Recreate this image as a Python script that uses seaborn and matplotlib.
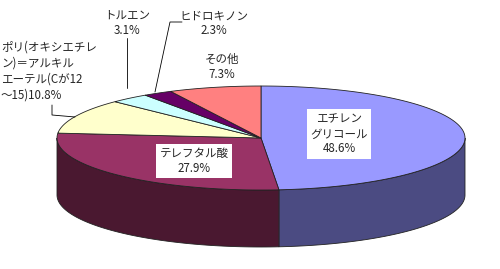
import numpy as np
import matplotlib
matplotlib.use("Agg")
import matplotlib.pyplot as plt
import seaborn as sns

# ---- data ----
categories = ["エチレン\nグリコール", "テレフタル酸", "ポリ(オキシエチレ\nン)＝アルキル\nエーテル(Cが12\n～15)",
              "トルエン", "ヒドロキノン", "その他"]
values = [48.6, 27.9, 10.8, 3.1, 2.3, 7.3]
top_colors = ["#9999FF", "#993366", "#FFFFCC", "#CCFFFF", "#660066", "#FF8080"]
side_colors = ["#4B4B82", "#4A1830", "#8A8A6E", "#6E8A8A", "#330033", "#8A4545"]

sns.set_theme(style="white")
plt.rcParams['font.family'] = ['Noto Sans CJK JP', 'DejaVu Sans']

W, H = 500, 269
fig = plt.figure(figsize=(W / 100, H / 100), dpi=100)
ax = fig.add_axes([0, 0, 1, 1])
ax.set_xlim(0, W)
ax.set_ylim(H, 0)
ax.axis("off")

cx, cy, a, b, depth = 261, 138, 204, 52, 57

def pt(theta_deg, dy=0):
    t = np.radians(theta_deg)
    return cx + a * np.sin(t), cy - b * np.cos(t) + dy

fracs = np.array(values) / np.sum(values) * 360
starts = np.concatenate([[0], np.cumsum(fracs)[:-1]])
ends = starts + fracs

# sides (front half: 90..270 deg)
for s, e, sc in zip(starts, ends, side_colors):
    lo, hi = max(s, 90), min(e, 270)
    if hi <= lo:
        continue
    th = np.linspace(lo, hi, 80)
    xs, ys = pt(th)
    xb, yb = pt(th[::-1], depth)
    ax.fill(np.concatenate([xs, xb]), np.concatenate([ys, yb]), color=sc,
            ec="#222222", lw=0.6, zorder=1)

# top faces
for s, e, tc in zip(starts, ends, top_colors):
    th = np.linspace(s, e, 120)
    xs, ys = pt(th)
    ax.fill(np.concatenate([[cx], xs]), np.concatenate([[cy], ys]), color=tc,
            ec="#222222", lw=0.6, zorder=2)

fs = 8.3
pct = [f"{v}%" for v in values]

# inside labels with white boxes
ax.text(339, 134, f"{categories[0]}\n{pct[0]}", ha="center", va="center", fontsize=fs,
        linespacing=1.2, zorder=5,
        bbox=dict(boxstyle="square,pad=0.3", fc="white", ec="none"))
ax.text(194, 161, f"{categories[1]}\n{pct[1]}", ha="center", va="center", fontsize=fs,
        linespacing=1.2, zorder=5,
        bbox=dict(boxstyle="square,pad=0.3", fc="white", ec="none"))

# outside labels
ax.text(1, 71, f"{categories[2]}{pct[2]}", ha="left", va="center", fontsize=fs,
        linespacing=1.3, zorder=5)
ax.text(127, 23, f"{categories[3]}\n{pct[3]}", ha="center", va="center", fontsize=fs,
        linespacing=1.2, zorder=5)
ax.text(214, 23, f"{categories[4]}\n{pct[4]}", ha="center", va="center", fontsize=fs,
        linespacing=1.2, zorder=5)
ax.text(222, 67, f"{categories[5]}\n{pct[5]}", ha="center", va="center", fontsize=fs,
        linespacing=1.2, zorder=5)

# leader lines
lc = dict(color="black", lw=0.6, zorder=4)
ax.plot([127, 127], [38, 88], **lc)
ax.plot([182, 170, 155], [22, 22, 92], **lc)
ax.plot([52, 52, 75], [105, 115, 117], **lc)

fig.savefig("out.png", dpi=100)
